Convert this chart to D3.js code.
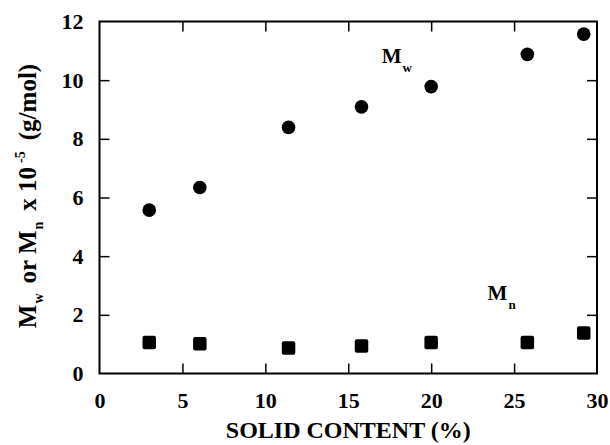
<!DOCTYPE html>
<html>
<head>
<meta charset="utf-8">
<script src="https://cdn.jsdelivr.net/npm/d3@7"></script>
<style>
  html, body { margin: 0; padding: 0; background: #fff; }
  svg { display: block; }
  text { font-family: "Liberation Serif", "Times New Roman", serif; font-weight: bold; fill: #000; }
</style>
</head>
<body>
<script>
// Solid content (%) for each sample
const solidContent = [3.0, 6.05, 11.4, 15.8, 20.0, 25.8, 29.2];
// Weight-average molecular weight (x 10^5 g/mol)
const mwValues = [5.57, 6.34, 8.39, 9.09, 9.78, 10.88, 11.57];
// Number-average molecular weight (x 10^5 g/mol)
const mnValues = [1.06, 1.01, 0.87, 0.94, 1.06, 1.06, 1.38];
const xTicks = [0, 5, 10, 15, 20, 25, 30];
const yTicks = [0, 2, 4, 6, 8, 10, 12];

const width = 610, height = 445;
const margin = { left: 99.5, right: 13, top: 21.5, bottom: 71.5 };
const iw = width - margin.left - margin.right;
const ih = height - margin.top - margin.bottom;

const svg = d3.select("body").append("svg")
  .attr("width", width).attr("height", height);

const g = svg.append("g").attr("transform", `translate(${margin.left},${margin.top})`);

const x = d3.scaleLinear().domain([0, 30]).range([0, iw]);
const y = d3.scaleLinear().domain([0, 12]).range([ih, 0]);

const tickLen = 10;
const fontSize = 22;

// Bottom axis with labels, ticks pointing inward
const xAxis = g.append("g").attr("transform", `translate(0,${ih})`)
  .call(d3.axisBottom(x).tickValues(xTicks).tickSizeInner(-tickLen).tickSizeOuter(0).tickPadding(19));
// Top axis, ticks only
const xTop = g.append("g")
  .call(d3.axisTop(x).tickValues(xTicks).tickSizeInner(-tickLen).tickSizeOuter(0).tickFormat(""));
// Left axis with labels
const yAxis = g.append("g")
  .call(d3.axisLeft(y).tickValues(yTicks).tickSizeInner(-tickLen).tickSizeOuter(0).tickPadding(16));
// Right axis, ticks only
const yRight = g.append("g").attr("transform", `translate(${iw},0)`)
  .call(d3.axisRight(y).tickValues(yTicks).tickSizeInner(-tickLen).tickSizeOuter(0).tickFormat(""));

[xAxis, xTop, yAxis, yRight].forEach(a => {
  a.select(".domain").remove();
  a.selectAll(".tick line").attr("stroke", "#000").attr("stroke-width", 1.5);
  a.selectAll(".tick text")
    .style("font-family", '"Liberation Serif", serif')
    .style("font-weight", "bold")
    .style("font-size", fontSize + "px")
    .attr("fill", "#000");
});
// hide edge ticks that coincide with the frame
[xAxis, xTop].forEach(a => a.selectAll(".tick").filter(d => d === 0 || d === 30).select("line").remove());
[yAxis, yRight].forEach(a => a.selectAll(".tick").filter(d => d === 0 || d === 12).select("line").remove());

// Frame
g.append("rect")
  .attr("x", 0).attr("y", 0).attr("width", iw).attr("height", ih)
  .attr("fill", "none").attr("stroke", "#000").attr("stroke-width", 2);

// Mw: filled circles
g.selectAll("circle.mw").data(solidContent).enter().append("circle")
  .attr("class", "mw")
  .attr("cx", d => x(d))
  .attr("cy", (d, i) => y(mwValues[i]))
  .attr("r", 6.8)
  .attr("fill", "#000");

// Mn: filled squares
const sq = 13.5;
g.selectAll("rect.mn").data(solidContent).enter().append("rect")
  .attr("class", "mn")
  .attr("x", d => x(d) - sq / 2)
  .attr("y", (d, i) => y(mnValues[i]) - sq / 2)
  .attr("width", sq).attr("height", sq)
  .attr("rx", 2).attr("ry", 2)
  .attr("fill", "#000");

// Series labels
function seriesLabel(px, py, sub) {
  const t = g.append("text").attr("x", px).attr("y", py).style("font-size", "21px");
  t.append("tspan").text("M");
  t.append("tspan").attr("dy", 9).attr("dx", 1).style("font-size", "13px").text(sub);
}
seriesLabel(x(17.02), y(10.57), "w");
seriesLabel(x(23.4), y(2.49), "n");

// X axis title
svg.append("text")
  .attr("x", margin.left + iw / 2)
  .attr("y", 437.5)
  .attr("text-anchor", "middle")
  .style("font-size", "24px")
  .text("SOLID CONTENT (%)");

// Y axis title (rotated)
const yt = svg.append("text")
  .attr("transform", `translate(36,196) rotate(-90)`)
  .attr("text-anchor", "middle")
  .style("font-size", "25px");
yt.append("tspan").text("M");
yt.append("tspan").attr("dy", 7).attr("dx", 1).style("font-size", "14px").text("w");
yt.append("tspan").attr("dy", -7).attr("dx", 10).text("or M");
yt.append("tspan").attr("dy", 7).attr("dx", 1).style("font-size", "14px").text("n");
yt.append("tspan").attr("dy", -7).attr("dx", 11).text("x 10");
yt.append("tspan").attr("dy", -11).attr("dx", 4).style("font-size", "14px").text("-5");
yt.append("tspan").attr("dy", 11).attr("dx", 11).text("(g/mol)");
</script>
</body>
</html>
